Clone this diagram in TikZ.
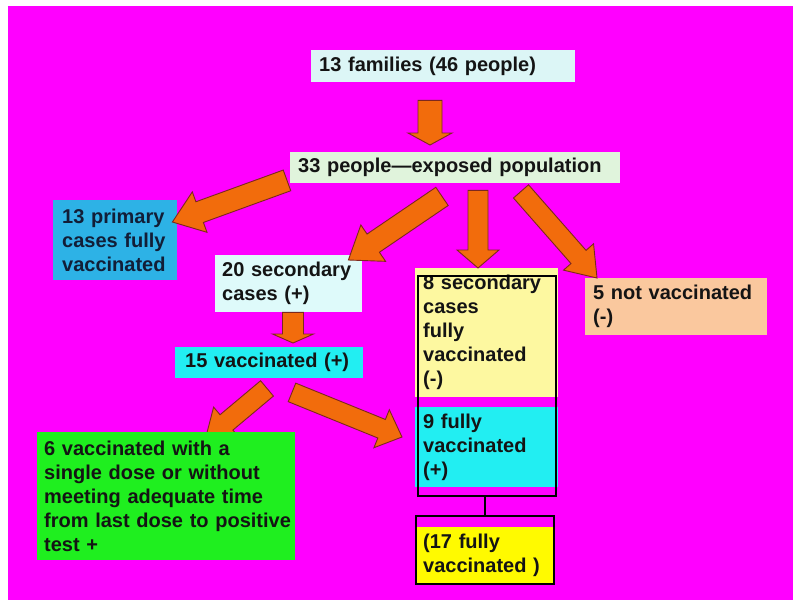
\documentclass[tikz,border=0pt]{standalone}
\usepackage{fontspec}
\setmainfont{Liberation Sans}
\usetikzlibrary{calc}
\definecolor{bgmag}{RGB}{255,0,255}
\definecolor{cTop}{RGB}{220,246,246}
\definecolor{cExp}{RGB}{224,244,220}
\definecolor{cPrim}{RGB}{45,178,230}
\definecolor{cSec}{RGB}{222,250,250}
\definecolor{cYel}{RGB}{253,248,160}
\definecolor{cPeach}{RGB}{250,200,158}
\definecolor{cCyan}{RGB}{34,238,242}
\definecolor{cGreen}{RGB}{31,239,31}
\definecolor{cYellow}{RGB}{255,250,0}
\definecolor{aOrange}{RGB}{242,108,12}
\definecolor{aLine}{RGB}{125,40,30}
\definecolor{txt}{RGB}{20,20,20}
\definecolor{txtNavy}{RGB}{18,30,55}
\newcommand{\blockarrow}[5]{%
  \coordinate (tmpH) at ($(#2)!#5!(#1)$);
  \filldraw[fill=aOrange, draw=aLine, line width=0.9pt, line join=miter]
    ($(#1)!#3!-90:(#2)$) -- ($(tmpH)!#3!-90:(#2)$) -- ($(tmpH)!#4!-90:(#2)$)
    -- (#2) -- ($(tmpH)!#4!90:(#2)$) -- ($(tmpH)!#3!90:(#2)$)
    -- ($(#1)!#3!90:(#2)$) -- cycle;}
\begin{document}
\begin{tikzpicture}[x=1pt,y=-1pt,
  box/.style={anchor=north west, inner ysep=0pt, align=left,
    font=\bfseries\fontsize{20}{24}\selectfont, text=txt},
  grp/.style={anchor=north west, draw=black, line width=1.5pt, inner sep=0pt},
  link/.style={draw=black, line width=2pt}]
\useasboundingbox (0,0) rectangle (793,600);
\fill[white] (0,0) rectangle (793,600);
\fill[bgmag] (8,6) rectangle (793,600);

\node[box, fill=cTop, minimum width=264pt, minimum height=32pt, inner xsep=8pt, text width=248pt] (top) at (311,50) {13 families (46 people)};
\node[box, fill=cExp, minimum width=330pt, minimum height=31pt, inner xsep=8pt, text width=314pt] (exposed) at (290,152) {33 people—exposed population};
\node[box, fill=cPrim, text=txtNavy, minimum width=124pt, minimum height=80pt, inner xsep=9pt, text width=106pt] (primary) at (53,200) {13 primary\\cases fully\\vaccinated};
\node[box, fill=cSec, minimum width=147pt, minimum height=57pt, inner xsep=7pt, text width=133pt] (sec20) at (215,255) {20 secondary\\cases (+)};
\node[box, fill=cYel, minimum width=143pt, minimum height=129pt, inner xsep=8pt, text width=127pt] (sec8) at (415,268) {8 secondary\\cases\\fully\\vaccinated\\(-)};
\node[box, fill=cPeach, minimum width=182pt, minimum height=57pt, inner xsep=8pt, text width=166pt] (notvac) at (585,278) {5 not vaccinated\\(-)};
\node[box, fill=cCyan, minimum width=188pt, minimum height=31pt, inner xsep=10pt, text width=168pt] (vac15) at (175,347) {15 vaccinated (+)};
\node[box, fill=cCyan, minimum width=143pt, minimum height=80pt, inner xsep=8pt, text width=127pt] (full9) at (415,407) {9 fully\\vaccinated\\(+)};
\node[box, fill=cYellow, minimum width=138pt, minimum height=56pt, inner xsep=8pt, text width=122pt] (full17) at (415,527) {(17 fully\\vaccinated )};

\node[grp, minimum width=138pt, minimum height=220pt] (grp1) at (417,275) {};
\node[grp, minimum width=138pt, minimum height=68pt] (grp2) at (415,515) {};
\draw[link] (grp2.north) -- (grp2.north |- grp1.south);

\coordinate (a1s) at ($(top.south west)+(119,18)$);
\coordinate (a1e) at ($(exposed.north west)+(140,-7)$);
\coordinate (a2s) at ($(exposed.south west)+(-3,-3)$);
\coordinate (a2e) at ($(primary.north east)+(-5,22)$);
\coordinate (a3s) at ($(exposed.south west)+(152,13)$);
\coordinate (a3e) at ($(sec20.north east)+(-14,5)$);
\coordinate (a4s) at ($(exposed.south west)+(188,7)$);
\coordinate (a4e) at ($(sec8.north west)+(63,0)$);
\coordinate (a5s) at ($(exposed.south west)+(231,8)$);
\coordinate (a5e) at ($(notvac.north west)+(12,0)$);
\coordinate (a6s) at ($(sec20.south west)+(78,0)$);
\coordinate (a6e) at ($(vac15.north west)+(118,-4)$);
\coordinate (a7s) at ($(vac15.south west)+(92,10)$);
\coordinate (a7e) at ($(vac15.south west)+(30,62)$);
\coordinate (a8s) at ($(vac15.south west)+(117,14)$);
\coordinate (a8e) at ($(full9.north west)+(-13,30)$);

\blockarrow{a1s}{a1e}{12pt}{22pt}{12pt}
\blockarrow{a2s}{a2e}{11pt}{21.5pt}{29pt}
\blockarrow{a3s}{a3e}{11pt}{22pt}{30pt}
\blockarrow{a4s}{a4e}{10pt}{21pt}{18pt}
\blockarrow{a5s}{a5e}{10pt}{20pt}{28pt}
\blockarrow{a6s}{a6e}{10.5pt}{20.5pt}{9pt}
\blockarrow{a7s}{a7e}{10pt}{20pt}{28pt}
\blockarrow{a8s}{a8e}{10pt}{20.5pt}{22pt}

\node[box, fill=cGreen, minimum width=258pt, minimum height=128pt, inner xsep=7pt, text width=244pt] (green) at (37,432) {6 vaccinated with a\\single dose or without\\meeting adequate time\\\mbox{from last dose to positive}\\test +};
\end{tikzpicture}
\end{document}
